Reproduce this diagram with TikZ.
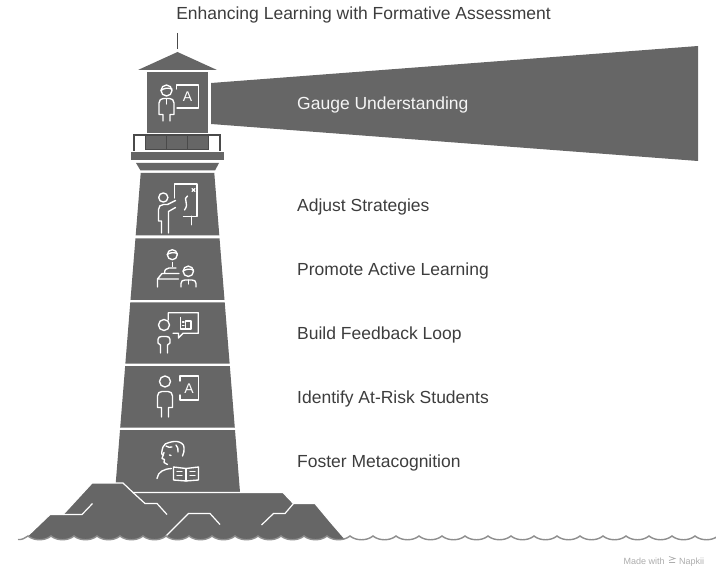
\documentclass[tikz,border=0pt]{standalone}
\usepackage{fontspec}
\setmainfont{Liberation Sans}
\definecolor{stone}{HTML}{666666}
\definecolor{ink}{HTML}{3D3D3D}
\definecolor{rail}{HTML}{4A4A4A}
\definecolor{surf}{HTML}{8E8E8E}
\definecolor{faint}{HTML}{ADADAD}
\tikzset{
  block/.style={fill=stone},
  icon/.style={draw=white,line width=1.35pt,line cap=round,line join=round},
  rowtext/.style={anchor=base west,inner sep=0pt,text=ink,font=\fontsize{17.5}{20}\selectfont},
  glyph/.style={inner sep=0pt,text=white,font=\fontsize{14}{14}\selectfont},
}
\begin{document}
\begin{tikzpicture}[x=1pt,y=-1pt]
  \useasboundingbox (0,0) rectangle (716,567);
  \node[rowtext,anchor=base] (title) at (363.5,20) {Enhancing Learning with Formative Assessment};

  % tower, five tapered blocks
  \foreach \ya/\yb in {173/235.5,238.5/300,302.5/363.5,366/427.5,430/492}{
    \pgfmathsetmacro\wa{36.7+(\ya-172)*0.0806}
    \pgfmathsetmacro\wb{36.7+(\yb-172)*0.0806}
    \fill[block] ({177.5-\wa},\ya) -- ({177.5+\wa},\ya) -- ({177.5+\wb},\yb) -- ({177.5-\wb},\yb) -- cycle;
  }

  % lantern, gallery and roof
  \fill[block] (136,163) -- (219,163) -- (215,170.5) -- (140.5,170.5) -- cycle;
  \fill[block] (131,152.5) rectangle (224,160.5);
  \filldraw[block,draw=rail,line width=1pt] (145,135) rectangle (208,150);
  \draw[rail,line width=1pt] (166.5,135) -- (166.5,150) (187.5,135) -- (187.5,150);
  \draw[rail,line width=1.2pt] (134,151) -- (134,135) -- (220,135) -- (220,151);
  \fill[block] (147,72) rectangle (208,133.5);
  \fill[block] (138,70) -- (217,70) -- (177.5,52) -- cycle;
  \draw[rail,line width=1pt] (177.5,33) -- (177.5,49);
  \fill[block] (211,83) -- (698,46) -- (698,161) -- (211,124) -- cycle;

  % rocks and sea
  \filldraw[block,draw=white,line width=1.2pt] (20,548) -- (28,535.5) -- (50,514.5) -- (63,514.5) -- (92,483)
    -- (123,483) -- (133,492.5) -- (283,492.5) -- (293.5,503.5) -- (315,503.5) -- (330,521.5)
    -- (346,540) -- (346,548) -- cycle;
  \draw[white,line width=1.2pt] (63,514.5) -- (82,514.5) -- (92.5,503.5);
  \draw[white,line width=1.2pt] (133,492.5) -- (145,503.5) -- (157,503.5) -- (167,514.5);
  \draw[white,line width=1.2pt] (166,536) -- (188.5,513.5) -- (210,513.5) -- (220,524.5);
  \draw[white,line width=1.2pt] (261.5,525) -- (273.5,513.5) -- (285,513.5) -- (293.5,503.5);
  \fill[white] (18,539.5) .. controls (22,540) and (25,538) .. (28,536)
    \foreach \k in {0,...,29}{ .. controls ({34+23*\k},541) and ({45+23*\k},541) .. ({51+23*\k},536) }
    -- (720,567) -- (14,567) -- cycle;
  \draw[surf,line width=1.4pt] (18,539.5) .. controls (22,540) and (25,538) .. (28,536)
    \foreach \k in {0,...,29}{ .. controls ({34+23*\k},541) and ({45+23*\k},541) .. ({51+23*\k},536) };

  % lantern icon
  \draw[icon] (166.5,90.5) circle (5.5);
  \draw[icon] (161,90.5) .. controls (164,88) and (168,87.5) .. (172,89);
  \draw[icon] (166.5,99.5) -- (166.5,104);
  \draw[icon] (163,121) -- (163,114.5) -- (159,114.5) -- (159,103) .. controls (159,100) and (161,98.5) .. (163.5,98.5)
    -- (169.5,98.5) .. controls (172,98.5) and (174,100) .. (174,103) -- (174,114.5) -- (170,114.5) -- (170,121);
  \draw[icon] (176.5,89) -- (176.5,85) -- (198.5,85) -- (198.5,108) -- (177,108);
  \node[glyph] (boardA) at (187.5,96.5) {A};

  % adjust strategies icon
  \draw[icon] (163.3,197.5) circle (4.6);
  \draw[icon] (161.5,233) -- (161.5,221) -- (158.5,221) -- (158.5,209.5) .. controls (158.5,206.5) and (160.5,204.5) .. (163.5,204.5)
    -- (167.5,204.5) -- (175.5,200.5);
  \draw[icon] (168.5,233) -- (168.5,211.5) -- (175.5,207.5);
  \draw[icon] (174.3,198) -- (174.3,184) -- (197,184) -- (197,216.3) -- (183.5,216.3);
  \draw[icon] (191.7,216.3) -- (191.7,224.7);
  \draw[icon] (187.5,196) .. controls (182,199) and (190,203) .. (184.5,210);
  \draw[icon] (192,188.5) -- (195,191.5) (195,188.5) -- (192,191.5);

  % active learning icon
  \draw[icon] (172.3,254.7) circle (5);
  \draw[icon] (167.3,254.5) .. controls (170,252.5) and (174,252) .. (177.3,253.5);
  \draw[icon] (172.3,262.5) -- (172.3,266.5);
  \draw[icon] (164.5,273.5) .. controls (164.5,270) and (166,268) .. (169,268) -- (176,268);
  \draw[icon] (157.5,287) -- (157.5,279) -- (162,273.5) -- (179,273.5) (157.5,279) -- (178.5,279);
  \draw[icon] (188.3,271.3) circle (5.2);
  \draw[icon] (183.1,271) .. controls (186,269) and (190,268.5) .. (193.5,270);
  \draw[icon] (181,287) -- (181,283.5) .. controls (181,281) and (182.5,280) .. (185,280) -- (192,280)
    .. controls (194.5,280) and (196,281) .. (196,283.5) -- (196,287);
  \draw[icon] (188.3,280) -- (188.3,284);

  % feedback icon
  \draw[icon] (164,325) circle (5.5);
  \draw[icon] (160.5,353) -- (160.5,345) -- (158,343) -- (158,339.5) .. controls (158,337.5) and (159.5,336.5) .. (161.5,336.5)
    -- (166.5,336.5) .. controls (168.5,336.5) and (170,337.5) .. (170,339.5) -- (170,343) -- (167.5,345) -- (167.5,353);
  \draw[icon] (168.3,320) -- (168.3,312.7) -- (198.3,312.7) -- (198.3,333.3) -- (183,333.3) -- (178.5,338) -- (178.5,333.3) -- (173,333.3);
  \draw[icon] (180.5,317.5) -- (180.5,329) -- (191,329) -- (191,321) -- (185.5,321) -- (185.5,329);
  \draw[icon] (182.5,322) -- (184,322) (182.5,325.5) -- (184,325.5);

  % at-risk icon
  \draw[icon] (165,381.5) circle (5.5);
  \draw[icon] (161.5,417) -- (161.5,407.5) -- (157.5,407.5) -- (157.5,396) .. controls (157.5,393) and (159.5,391.5) .. (162,391.5)
    -- (168,391.5) .. controls (170.5,391.5) and (172.5,393) .. (172.5,396) -- (172.5,407.5) -- (168.5,407.5) -- (168.5,417);
  \draw[icon] (180,381) -- (180,376) -- (198.5,376) -- (198.5,400) -- (180,400) -- (180,395);
  \node[glyph] (riskA) at (189,388.5) {A};

  % metacognition icon
  \draw[icon] (163.5,455) to[out=200,in=250] (163,447) to[out=70,in=190] (169,442.5) to[out=10,in=170] (177,441.5)
    to[out=-10,in=90] (184,447.5) to[out=270,in=60] (182.5,456);
  \draw[icon] (166,446) to[out=-30,in=200] (172,447) (176,445) to[out=-40,in=90] (178,452);
  \draw[icon] (164,452.5) -- (162,458.5) -- (164.5,459.5) -- (164,462.5) -- (167.5,464.5);
  \draw[icon] (169.5,455) -- (171,455.5);
  \draw[icon] (157,478.5) .. controls (158,471.5) and (164,469) .. (171.5,468.5);
  \draw[icon] (173.5,467) -- (173.5,480) -- (186,481) -- (198.5,480) -- (198.5,467) -- (186,468.5) -- cycle;
  \draw[icon] (186,468.5) -- (186,481);
  \draw[icon] (177,471.5) -- (182,471.5) (177,475.5) -- (182,475.5) (190,471.5) -- (195,471.5) (190,475.5) -- (195,475.5);

  % texts
  \node[rowtext,text=white!96!black] (gauge) at (297,110) {Gauge Understanding};
  \node[rowtext] (adjust) at (297,212) {Adjust Strategies};
  \node[rowtext] (promote) at (297,276) {Promote Active Learning};
  \node[rowtext] (feedback) at (297,339) {Build Feedback Loop};
  \node[rowtext] (atrisk) at (297,403) {Identify At-Risk Students};
  \node[rowtext] (metacog) at (297,467) {Foster Metacognition};

  \node[rowtext,text=faint,font=\fontsize{9}{9}\selectfont] (made) at (623.5,564) {Made with};
  \draw[faint,line width=0.7pt] (669,556.5) -- (675,558.5) -- (669,560.5) (669,562.5) -- (675,562.5);
  \node[rowtext,text=faint,font=\fontsize{9}{9}\selectfont] (napkin) at (679,564) {Napkii};
\end{tikzpicture}
\end{document}
